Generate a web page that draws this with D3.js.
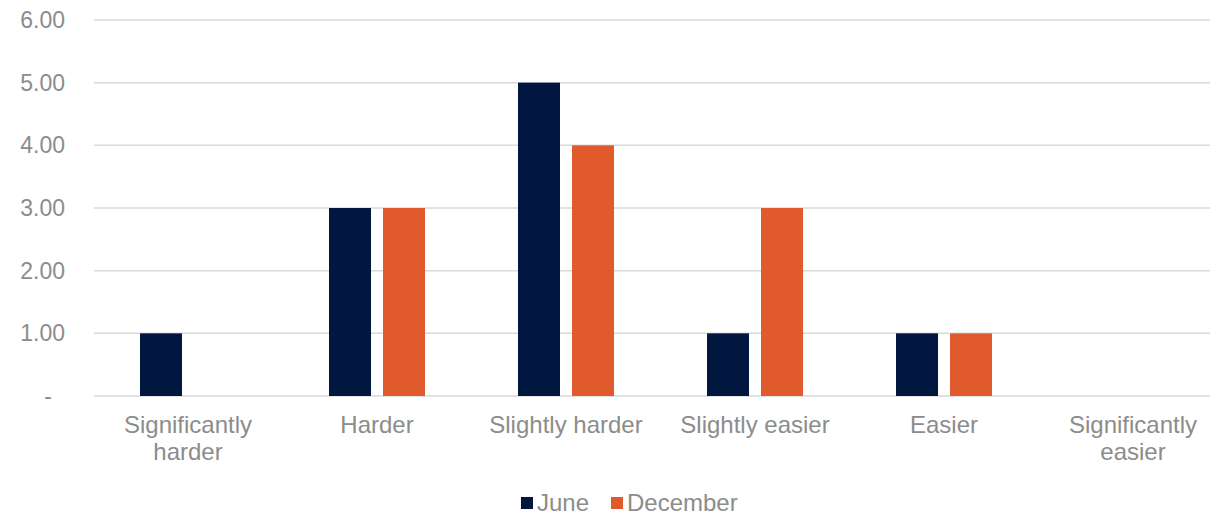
<!DOCTYPE html>
<html>
<head>
<meta charset="utf-8">
<script src="https://cdn.jsdelivr.net/npm/d3@7"></script>
<style>
  body { margin: 0; background: #fff; }
  text { font-family: "Liberation Sans", Arial, sans-serif; fill: #8c8c8c; }
</style>
</head>
<body>
<svg id="chart" width="1210" height="515"></svg>
<script>
// chart data
var categories = [["Significantly", "harder"], ["Harder"], ["Slightly harder"], ["Slightly easier"], ["Easier"], ["Significantly", "easier"]];
var series = ["June", "December"];
var june = [1, 3, 5, 1, 1, 0];
var december = [0, 3, 4, 3, 1, 0];
var yTicks = [0, 1, 2, 3, 4, 5, 6];
var colors = ["#021740", "#e05a2b"];

var svg = d3.select("#chart");

var x = d3.scaleBand()
  .domain(d3.range(categories.length))
  .range([93.5, 1227.5]);

var inner = d3.scaleBand()
  .domain(series)
  .range([-48, 48])
  .paddingInner(12 / 54);

var y = d3.scaleLinear()
  .domain([0, 6])
  .range([396, 20]);

// gridlines
svg.append("g")
  .selectAll("line")
  .data(yTicks)
  .enter()
  .append("line")
  .attr("x1", 94)
  .attr("x2", 1210)
  .attr("y1", function(d) { return y(d); })
  .attr("y2", function(d) { return y(d); })
  .style("stroke", "#d9d9d9")
  .style("stroke-width", 1.5);

// y axis labels
var yAxis = svg.append("g")
  .attr("transform", "translate(72,0)")
  .call(d3.axisLeft(y).tickValues(yTicks).tickSize(0).tickPadding(7)
    .tickFormat(function(d) { return d === 0 ? "-" : d.toFixed(2); }));
yAxis.select(".domain").remove();
yAxis.selectAll("text")
  .style("font-size", "23px")
  .style("fill", "#8c8c8c")
  .style("font-family", "Liberation Sans, Arial, sans-serif")
  .attr("dx", function(d) { return d === 0 ? -13 : 0; });

// bars
var data = [june, december];
series.forEach(function(name, s) {
  svg.append("g")
    .selectAll("rect")
    .data(data[s])
    .enter()
    .append("rect")
    .attr("x", function(d, i) { return x(i) + x.bandwidth() / 2 + inner(name); })
    .attr("width", inner.bandwidth())
    .attr("y", function(d) { return y(d); })
    .attr("height", function(d) { return y(0) - y(d); })
    .attr("fill", colors[s]);
});

// x labels
var xl = svg.append("g")
  .selectAll("text")
  .data(categories)
  .enter()
  .append("text")
  .attr("text-anchor", "middle")
  .attr("x", function(d, i) { return x(i) + x.bandwidth() / 2; })
  .attr("y", 433)
  .style("font-size", "24px");
xl.selectAll("tspan")
  .data(function(d) { return d; })
  .enter()
  .append("tspan")
  .attr("x", function() { return d3.select(this.parentNode).attr("x"); })
  .attr("dy", function(d, i) { return i === 0 ? 0 : 27; })
  .text(function(d) { return d; });

// legend
var legendX = [521, 611];
var legend = svg.append("g")
  .selectAll("g")
  .data(series)
  .enter()
  .append("g")
  .attr("transform", function(d, i) { return "translate(" + legendX[i] + ",497)"; });
legend.append("rect")
  .attr("width", 12)
  .attr("height", 12)
  .attr("fill", function(d, i) { return colors[i]; });
legend.append("text")
  .attr("x", 16)
  .attr("y", 14)
  .style("font-size", "24px")
  .text(function(d) { return d; });
</script>
</body>
</html>
